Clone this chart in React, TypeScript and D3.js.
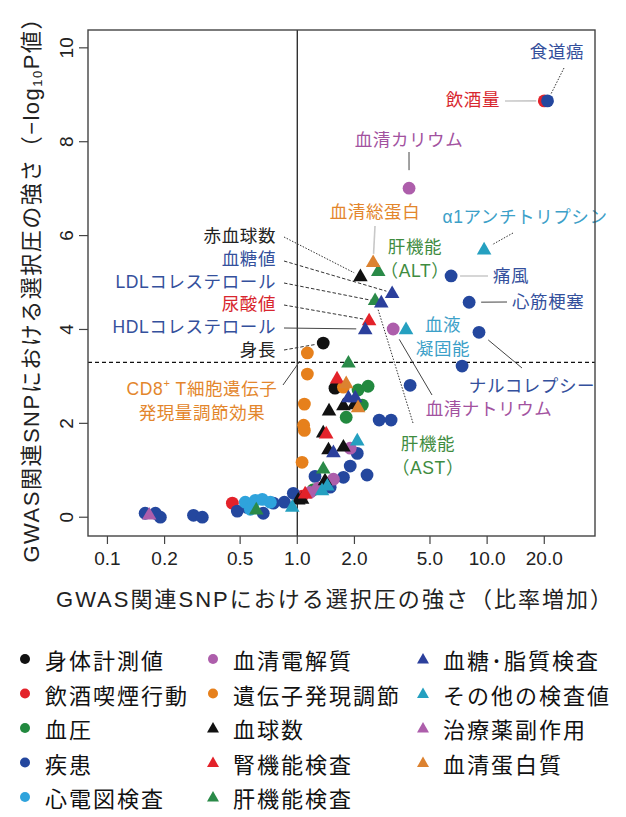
import React from 'react';
import * as d3 from 'd3';

// ---------- data: [ratio increase, -log10 P] ----------
const anthro = [[1.37, 3.71], [1.58, 2.75]];
const alcohol = [[0.455, 0.30], [1.062, 0.45], [20.0, 8.87]];
const bp = [[1.21, 0.58], [2.09, 2.71], [2.36, 2.79], [2.20, 2.39], [1.81, 2.13]];
const disease = [
  [0.158, 0.085], [0.179, 0.085], [0.190, 0.0], [0.284, 0.04], [0.316, 0.0], [0.483, 0.13],
  [0.545, 0.21], [0.662, 0.085], [0.748, 0.30], [0.855, 0.32], [0.953, 0.51], [1.24, 0.87],
  [1.49, 0.64], [1.75, 0.85], [1.90, 1.09], [2.33, 0.90], [2.07, 1.36], [2.70, 2.07],
  [3.12, 2.07], [3.93, 2.81], [7.38, 3.22], [6.46, 5.14], [8.04, 4.58], [9.06, 3.94], [20.8, 8.87],
];
const ecg = [[0.532, 0.32], [0.566, 0.17], [0.601, 0.36], [0.654, 0.38], [0.721, 0.32]];
const electrolyte = [[1.17, 0.53], [1.29, 0.62], [1.55, 0.81], [1.90, 1.47], [3.20, 4.01], [3.88, 7.01]];
const eqtl = [[1.06, 1.17], [1.08, 1.96], [1.09, 1.85], [1.09, 2.41], [1.13, 3.05], [1.13, 3.50], [1.75, 2.77]];
const blood = [[1.012, 0.38], [1.06, 0.40], [1.40, 0.79], [1.46, 1.45], [1.75, 1.51], [1.37, 1.81], [1.47, 2.28], [1.75, 2.39], [1.99, 2.41], [2.15, 5.14]];
const kidney = [[1.10, 0.51], [1.42, 1.79], [1.62, 2.96], [2.39, 4.20]];
const liver = [[0.608, 0.17], [1.37, 1.04], [1.86, 3.30], [2.57, 4.63], [2.67, 5.25]];
const lipid = [[1.55, 1.39], [1.86, 2.56], [2.02, 2.56], [2.28, 4.01], [2.77, 4.58], [3.16, 4.78]];
const other = [[0.941, 0.23], [1.35, 0.58], [1.44, 0.68], [2.07, 1.64], [3.74, 4.01], [9.64, 5.71]];
const drug = [[0.166, 0.06]];
const protein = [[1.81, 2.86], [2.09, 2.35], [2.51, 5.44]];

const X_TICKS = [0.1, 0.2, 0.5, 1, 2, 5, 10, 20];
const X_TICK_LABELS = ['0.1', '0.2', '0.5', '1.0', '2.0', '5.0', '10.0', '20.0'];
const Y_TICKS = [0, 2, 4, 6, 8, 10];
const THRESHOLD = 3.3;

const CATEGORY_KEYS = ['anthro', 'alcohol', 'bp', 'disease', 'ecg', 'electrolyte', 'eqtl', 'blood', 'kidney', 'liver', 'lipid', 'other', 'drug', 'protein'];
const CATEGORY_LABELS = ['身体計測値', '飲酒喫煙行動', '血圧', '疾患', '心電図検査', '血清電解質', '遺伝子発現調節', '血球数', '腎機能検査', '肝機能検査', '血糖･脂質検査', 'その他の検査値', '治療薬副作用', '血清蛋白質'];
const SERIES = [anthro, alcohol, bp, disease, ecg, electrolyte, eqtl, blood, kidney, liver, lipid, other, drug, protein];

// ---------- styles ----------
const STYLE = {
  anthro: { shape: 'c', color: '#111111' },
  alcohol: { shape: 'c', color: '#e3222a' },
  bp: { shape: 'c', color: '#22893f' },
  disease: { shape: 'c', color: '#24479e' },
  ecg: { shape: 'c', color: '#2fa3dc' },
  electrolyte: { shape: 'c', color: '#ad5eab' },
  eqtl: { shape: 'c', color: '#e6801c' },
  blood: { shape: 't', color: '#111111' },
  kidney: { shape: 't', color: '#e3222a' },
  liver: { shape: 't', color: '#2a8a48' },
  lipid: { shape: 't', color: '#2b3f9c' },
  other: { shape: 't', color: '#25a0c0' },
  drug: { shape: 't', color: '#ad5eab' },
  protein: { shape: 't', color: '#dc8230' },
};

const C_BLUE = '#34509c';
const C_RED = '#d8262e';
const C_MAG = '#a2529f';
const C_ORA = '#e3862c';
const C_GRN = '#3f8c3f';
const C_CYA = '#3ca0c8';
const C_BLK = '#222222';

// annotations: text lines, colour, text anchor px, target point (data), leader start px
const ANNOTATIONS = [
  { lines: ['食道癌'], color: C_BLUE, tx: 557, ty: 52, anchor: 'middle', from: [564, 68], to: [20.8, 8.87], gap: 8, line: 'dotted' },
  { lines: ['飲酒量'], color: C_RED, tx: 500, ty: 100, anchor: 'end', from: [505, 101], to: [20.0, 8.87], gap: 8, line: 'light' },
  { lines: ['血清カリウム'], color: C_MAG, tx: 409, ty: 140, anchor: 'middle', from: [409, 152], to: [3.88, 7.01], gap: 18, line: 'solid' },
  { lines: ['血清総蛋白'], color: C_ORA, tx: 375, ty: 212, anchor: 'middle', from: [375, 226], to: [2.51, 5.44], gap: 8, line: 'light' },
  { lines: ['α1アンチトリプシン'], color: C_CYA, tx: 525, ty: 217, anchor: 'middle', from: [513, 233], to: [9.64, 5.71], gap: 9, line: 'dotted' },
  { lines: ['肝機能', '（ALT）'], color: C_GRN, tx: 415, ty: 247, anchor: 'middle', from: null, to: null, gap: 0, line: 'none' },
  { lines: ['痛風'], color: C_BLUE, tx: 493, ty: 276, anchor: 'start', from: [488, 276], to: [6.46, 5.14], gap: 9, line: 'light' },
  { lines: ['心筋梗塞'], color: C_BLUE, tx: 512, ty: 302, anchor: 'start', from: [507, 302], to: [8.04, 4.58], gap: 12, line: 'solid' },
  { lines: ['血液', '凝固能'], color: C_CYA, tx: 443, ty: 325, anchor: 'middle', from: null, to: null, gap: 0, line: 'none' },
  { lines: ['ナルコレプシー'], color: C_BLUE, tx: 532, ty: 386, anchor: 'middle', from: [522, 368], to: [9.06, 3.94], gap: 12, line: 'solid' },
  { lines: ['血清ナトリウム'], color: C_MAG, tx: 489, ty: 409, anchor: 'middle', from: [432, 395], to: [3.20, 4.01], gap: 12, line: 'solid' },
  { lines: ['肝機能', '（AST）'], color: C_GRN, tx: 428, ty: 444, anchor: 'middle', from: [413, 423], to: [2.57, 4.63], gap: 10, line: 'dotted' },
  { lines: ['赤血球数'], color: C_BLK, tx: 276, ty: 236, anchor: 'end', from: [284, 237], to: [2.15, 5.14], gap: 7, line: 'dotted' },
  { lines: ['血糖値'], color: C_BLUE, tx: 276, ty: 259, anchor: 'end', from: [284, 261], to: [3.16, 4.78], gap: 6, line: 'dashed' },
  { lines: ['LDLコレステロール'], color: C_BLUE, tx: 276, ty: 282, anchor: 'end', from: [284, 283], to: [2.77, 4.58], gap: 9, line: 'dashed' },
  { lines: ['尿酸値'], color: C_RED, tx: 276, ty: 304, anchor: 'end', from: [284, 305], to: [2.39, 4.20], gap: 6, line: 'dashed' },
  { lines: ['HDLコレステロール'], color: C_BLUE, tx: 276, ty: 327, anchor: 'end', from: [284, 328], to: [2.28, 4.01], gap: 9, line: 'solid' },
  { lines: ['身長'], color: C_BLK, tx: 276, ty: 350, anchor: 'end', from: [284, 350], to: [1.37, 3.71], gap: 8, line: 'dashed' },
];

const JP = "'Noto Sans CJK JP', 'Noto Sans', sans-serif";
const MIX = "'Liberation Sans', Arial, 'Noto Sans CJK JP', sans-serif";

const LINE_STYLE: Record<string, any> = {
  dotted: { stroke: '#333', strokeWidth: 1, strokeDasharray: '1.5,1.5' },
  dashed: { stroke: '#333', strokeWidth: 1, strokeDasharray: '3.5,2' },
  solid: { stroke: '#444', strokeWidth: 1 },
  light: { stroke: '#c8c8c8', strokeWidth: 1.6 },
};

export default function App() {
  const x = d3.scaleLog().domain([0.079, 37]).range([88, 595]);
  const y = d3.scaleLinear().domain([-0.4, 10.38]).range([536, 30]);
  const triPath = d3.symbol(d3.symbolTriangle, 92)();
  const triLegend = d3.symbol(d3.symbolTriangle, 62)();

  const [x0, x1] = x.range();
  const [yb, yt] = y.range();

  const marks: any[] = [];
  SERIES.forEach((arr, ci) => {
    const st = STYLE[CATEGORY_KEYS[ci]];
    arr.forEach((d, i) => {
      const cx = x(d[0]);
      const cy = y(d[1]);
      if (st.shape === 'c') {
        marks.push(<circle key={`${ci}-${i}`} cx={cx} cy={cy} r={6.4} fill={st.color} />);
      } else {
        marks.push(<path key={`${ci}-${i}`} d={triPath} transform={`translate(${cx},${cy + 1})`} fill={st.color} />);
      }
    });
  });

  const leaders = ANNOTATIONS.filter(a => a.from && a.to).map((a, i) => {
    const [sx, sy] = a.from as number[];
    const tx = x((a.to as number[])[0]);
    const ty = y((a.to as number[])[1]);
    const dx = tx - sx, dy = ty - sy;
    const len = Math.hypot(dx, dy);
    const ex = tx - (dx / len) * a.gap;
    const ey = ty - (dy / len) * a.gap;
    return <line key={`ld${i}`} x1={sx} y1={sy} x2={ex} y2={ey} {...LINE_STYLE[a.line]} />;
  });

  const labels = ANNOTATIONS.map((a, i) => (
    <text key={`lb${i}`} fill={a.color} fontFamily={MIX} fontSize={17.5} textAnchor={a.anchor} dominantBaseline="central" letterSpacing={0.6}>
      {a.lines.map((t, j) => (
        <tspan key={j} x={a.tx} y={a.ty + j * 24}>{t}</tspan>
      ))}
    </text>
  ));

  // legend layout
  const legendCols = [[0, 1, 2, 3, 4], [5, 6, 7, 8, 9], [10, 11, 12, 13]];
  const colMarkX = [25, 213, 423];
  const rowY = (r: number) => 659 + r * 34.5;

  return (
    <svg width={626} height={817} viewBox="0 0 626 817" style={{ position: 'absolute', left: 0, top: 0, background: '#fff' }}>
      <rect x={0} y={0} width={626} height={817} fill="#fff" />
      {/* reference lines */}
      <line x1={x(1)} x2={x(1)} y1={yb} y2={yt} stroke="#222" strokeWidth={1.3} />
      <line x1={x0} x2={x1} y1={y(THRESHOLD)} y2={y(THRESHOLD)} stroke="#111" strokeWidth={1.2} strokeDasharray="4,3" />
      {leaders}
      {marks}
      {labels}
      <text fill={C_ORA} fontFamily={MIX} fontSize={17.5} textAnchor="middle" dominantBaseline="central" letterSpacing={0.6}>
        <tspan x={202} y={389}>CD8</tspan>
        <tspan fontSize={11} dy={-6}>+</tspan>
        <tspan fontSize={17.5} dy={6}> T細胞遺伝子</tspan>
        <tspan x={202} y={413}>発現量調節効果</tspan>
      </text>
      <line x1={283} y1={385} x2={300} y2={361} stroke="#444" strokeWidth={1} />
      {/* box */}
      <rect x={x0} y={yt} width={x1 - x0} height={yb - yt} fill="none" stroke="#444" strokeWidth={1.4} />
      {/* x axis */}
      {X_TICKS.map((t, i) => (
        <g key={`xt${i}`}>
          <line x1={x(t)} x2={x(t)} y1={yb} y2={yb + 8} stroke="#444" strokeWidth={1.2} />
          <text x={x(t)} y={558} textAnchor="middle" dominantBaseline="central" fontFamily={MIX} fontSize={19} fill="#222">{X_TICK_LABELS[i]}</text>
        </g>
      ))}
      {Y_TICKS.map((t, i) => (
        <g key={`yt${i}`}>
          <line x1={x0} x2={x0 - 9} y1={y(t)} y2={y(t)} stroke="#444" strokeWidth={1.2} />
          <text transform={`translate(66,${y(t)}) rotate(-90)`} textAnchor="middle" dominantBaseline="central" fontFamily={MIX} fontSize={19} fill="#222">{t}</text>
        </g>
      ))}
      <text x={334} y={599} textAnchor="middle" dominantBaseline="central" fontFamily={MIX} fontSize={22} fill="#222" textLength={556} lengthAdjust="spacing">
        GWAS関連SNPにおける選択圧の強さ（比率増加）
      </text>
      <text transform="translate(31,285) rotate(-90)" textAnchor="middle" dominantBaseline="central" fontFamily={MIX} fontSize={22} fill="#222" textLength={555} lengthAdjust="spacing">
        GWAS関連SNPにおける選択圧の強さ（−log<tspan fontSize={13} dy={6}>10</tspan><tspan fontSize={22} dy={-6}>P値）</tspan>
      </text>
      {/* legend */}
      {legendCols.map((col, c) =>
        col.map((ci, r) => {
          const st = STYLE[CATEGORY_KEYS[ci]];
          const cy = rowY(r);
          const mx = colMarkX[c];
          return (
            <g key={`lg${ci}`}>
              {st.shape === 'c'
                ? <circle cx={mx} cy={cy} r={5} fill={st.color} />
                : <path d={triLegend} transform={`translate(${mx},${cy + 1})`} fill={st.color} />}
              <text x={mx + 20} y={cy} dominantBaseline="central" fontFamily={JP} fontSize={22} letterSpacing={2} fill="#111">{CATEGORY_LABELS[ci]}</text>
            </g>
          );
        })
      )}
    </svg>
  );
}
